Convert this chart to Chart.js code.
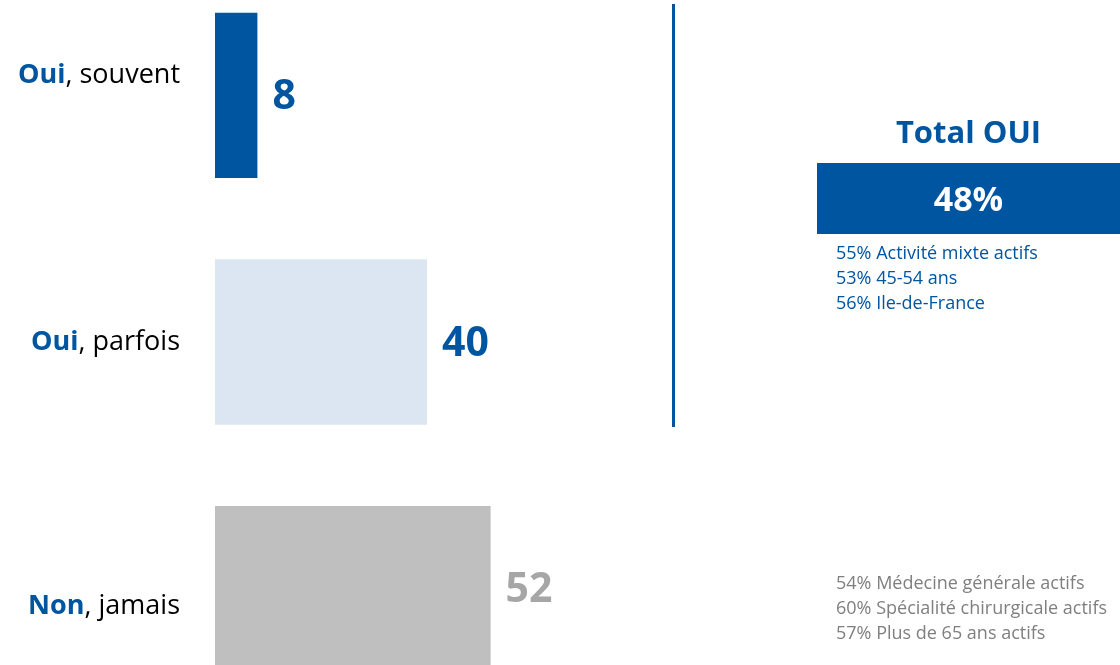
<!DOCTYPE html>
<html>
<head>
<meta charset="utf-8">
<script src="https://cdn.jsdelivr.net/npm/chart.js@4"></script>
<style>
  body { margin: 0; width: 1120px; height: 665px; overflow: hidden; background: #fff; font-family: 'Open Sans', sans-serif; position: relative; }
  #wrap { position: absolute; left: 0; top: -28px; width: 1120px; height: 740px; }
  .vline { position: absolute; left: 672px; top: 4px; width: 3px; height: 423px; background: #0055A0; }
  .total-title { position: absolute; left: 817px; width: 303px; top: 110px; text-align: center; font-weight: bold; font-size: 31px; color: #0055A0; }
  .total-box { position: absolute; left: 817px; top: 163px; width: 303px; height: 71px; background: #0055A0; color: #fff; font-weight: bold; font-size: 34px; text-align: center; line-height: 71px; }
  .details { position: absolute; left: 836px; font-size: 18px; line-height: 25px; white-space: nowrap; }
  .yes { top: 240px; color: #0055A0; }
  .no { top: 570px; color: #7F7F7F; }
</style>
</head>
<body>
<div id="wrap"><canvas id="chart"></canvas></div>
<div class="vline"></div>
<div class="total-title" id="totalTitle"></div>
<div class="total-box" id="totalBox"></div>
<div class="details yes" id="yesDetails"></div>
<div class="details no" id="noDetails"></div>
<script>
// Données
const labelBold = ['Oui', 'Oui', 'Non'];
const labelRest = [', souvent', ', parfois', ', jamais'];
const values = [8, 40, 52];
const barColors = ['#0055A0', '#DCE6F2', '#BFBFBF'];
const valueColors = ['#0055A0', '#0055A0', '#A6A6A6'];
const labelShift = [-20, 0, 18];

const totalTitle = 'Total OUI';
const totalValue = '48%';
const yesDetails = ['55% Activité mixte actifs', '53% 45-54 ans', '56% Ile-de-France'];
const noDetails = ['54% Médecine générale actifs', '60% Spécialité chirurgicale actifs', '57% Plus de 65 ans actifs'];

// Panneau de droite
document.getElementById('totalTitle').textContent = totalTitle;
document.getElementById('totalBox').textContent = totalValue;
document.getElementById('yesDetails').innerHTML = yesDetails.join('<br>');
document.getElementById('noDetails').innerHTML = noDetails.join('<br>');

// Libellés des catégories et valeurs
const labelsPlugin = {
    id: 'labels',
    afterDatasetsDraw(chart) {
        const ctx = chart.ctx;
        const meta = chart.getDatasetMeta(0);
        const yScale = chart.scales.y;
        ctx.save();
        ctx.textBaseline = 'middle';
        values.forEach((v, i) => {
            const y = yScale.getPixelForValue(i);
            // libellé à gauche
            ctx.font = 'bold 27px "Open Sans"';
            const wb = ctx.measureText(labelBold[i]).width;
            ctx.font = '27px "Open Sans"';
            const wr = ctx.measureText(labelRest[i]).width;
            const x0 = 180 - wb - wr;
            ctx.textAlign = 'left';
            ctx.font = 'bold 27px "Open Sans"';
            ctx.fillStyle = '#0055A0';
            ctx.fillText(labelBold[i], x0, y + labelShift[i]);
            ctx.font = '27px "Open Sans"';
            ctx.fillStyle = '#000';
            ctx.fillText(labelRest[i], x0 + wb, y + labelShift[i]);
            // valeur
            const bar = meta.data[i];
            ctx.font = 'bold 41px "Open Sans"';
            ctx.fillStyle = valueColors[i];
            ctx.fillText(String(v), bar.x + 15, y + 2);
        });
        ctx.restore();
    }
};

new Chart(document.getElementById('chart'), {
    type: 'bar',
    data: {
        labels: labelBold.map((b, i) => b + labelRest[i]),
        datasets: [{
            data: values,
            backgroundColor: barColors,
            borderWidth: 0,
            barPercentage: 0.67,
            categoryPercentage: 1
        }]
    },
    options: {
        indexAxis: 'y',
        responsive: true,
        maintainAspectRatio: false,
        animation: false,
        layout: { padding: { left: 215, right: 375, top: 0, bottom: 0 } },
        plugins: {
            legend: { display: false },
            tooltip: { enabled: false }
        },
        scales: {
            x: { display: false, min: 0, max: 100 },
            y: { display: false }
        }
    },
    plugins: [labelsPlugin]
});
</script>
</body>
</html>
